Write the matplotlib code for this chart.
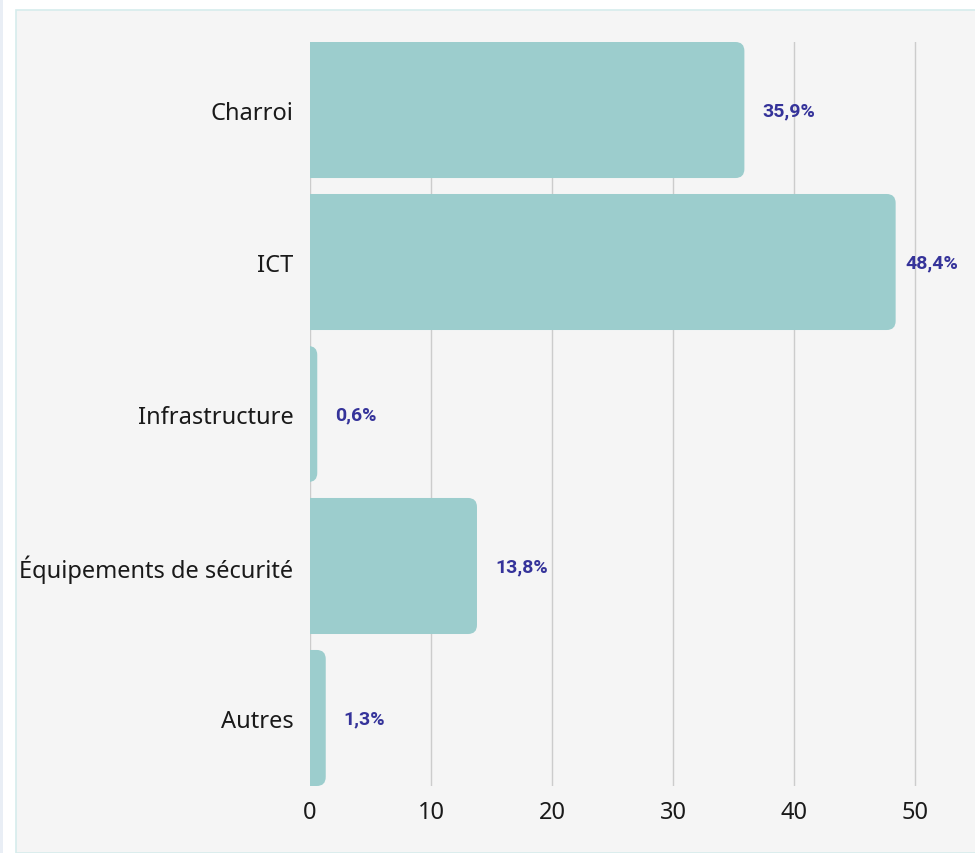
import matplotlib.pyplot as plt
from matplotlib.patches import FancyBboxPatch, Rectangle

plt.rcParams['font.family'] = ['Noto Sans', 'DejaVu Sans']

# données
categories = ['Charroi', 'ICT', 'Infrastructure', 'Équipements de sécurité', 'Autres']
values = [35.9, 48.4, 0.6, 13.8, 1.3]
value_labels = ['35,9%', '48,4%', '0,6%', '13,8%', '1,3%']
xticks = [0, 10, 20, 30, 40, 50]

bar_color = '#9ccdcd'
label_color = '#35339a'
bg = '#f5f5f5'

fig = plt.figure(figsize=(9.75, 8.54), dpi=100)
fig.patch.set_facecolor('white')

# fond du panneau + bande à gauche (derrière les axes)
fig.add_artist(Rectangle((0, 0), 3 / 975, 1, transform=fig.transFigure,
                         facecolor='#e9eef5', edgecolor='none', zorder=-10))
fig.add_artist(Rectangle((16 / 975, 0), 1.0, 1 - 11 / 854, transform=fig.transFigure,
                         facecolor=bg, edgecolor='#d6ecec', linewidth=1.2, zorder=-10))

ax = fig.add_axes([310 / 975, 1 - 787 / 854, 665 / 975, 744 / 854])
ax.set_facecolor('none')

height = 0.895
xmax = 665 / 12.1
ax.set_xlim(0, xmax)
ax.set_ylim(len(categories) - 1 + height / 2, -height / 2)

# barres arrondies à droite (le côté gauche part sous l'axe et est coupé)
px_x = 12.1
px_y = 744 / (len(categories) - 1 + height)
r = 9 / px_x
aspect = (9 / px_y) / r
fig.canvas.draw()
renderer = fig.canvas.get_renderer()
for i, v in enumerate(values):
    start = -2.5
    p = FancyBboxPatch((start, i - height / 2), v - start, height,
                       boxstyle=f'round,pad=0,rounding_size={r}',
                       mutation_aspect=aspect,
                       facecolor=bar_color, edgecolor='none', zorder=2)
    ax.add_patch(p)
    t = ax.text(v + 18 / px_x, i, value_labels[i], va='center', ha='left',
                fontsize=14, fontweight='bold',
                family=['Roboto', 'DejaVu Sans'], color=label_color, zorder=3)
    # le libellé reste dans la zone (comme dans l'original)
    w = t.get_window_extent(renderer).width / px_x
    if v + 18 / px_x + w > xmax - 17 / px_x:
        t.set_x(xmax - 17 / px_x - w)

ax.set_yticks(range(len(categories)))
ax.set_yticklabels(categories)
ax.set_xticks(xticks)
ax.tick_params(axis='both', length=0, labelsize=17, colors='#1a1a1a')
ax.tick_params(axis='y', pad=12)
ax.tick_params(axis='x', pad=10)
ax.grid(axis='x', color='#cccccc', linewidth=1)
ax.set_axisbelow(True)
for s in ax.spines.values():
    s.set_visible(False)

plt.savefig('out.png', dpi=100, facecolor=fig.get_facecolor())
